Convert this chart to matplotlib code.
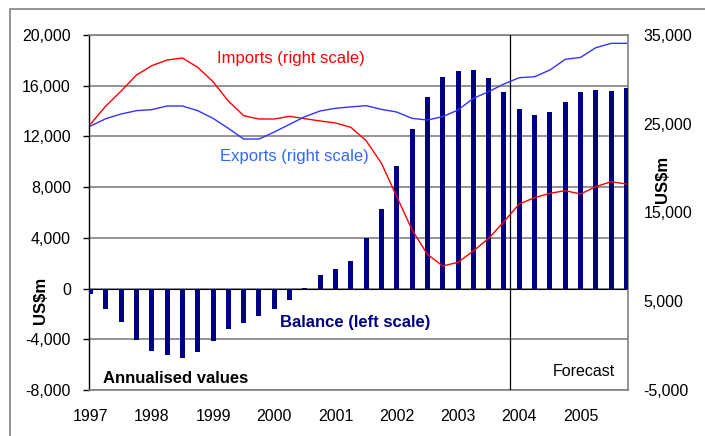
import matplotlib
matplotlib.use("Agg")
from matplotlib import pyplot as plt
from matplotlib.patches import Rectangle

plt.rcParams['font.family'] = ['Liberation Sans', 'DejaVu Sans']

# Quarterly data, 1997 Q1 - 2005 Q4 (forecast from 2004)
years = ['1997', '1998', '1999', '2000', '2001', '2002', '2003', '2004', '2005']
balance = [-400, -1620, -2640, -4030, -4920, -5230, -5460, -4990,
           -4130, -3190, -2720, -2170, -1620, -915, 80, 1100,
           1520, 2200, 4000, 6240, 9630, 12550, 15080, 16660,
           17130, 17210, 16580, 15470, 14130, 13660, 13890, 14710,
           15500, 15630, 15550, 15820]
imports = [24970, 27000, 28690, 30490, 31545, 32180, 32410, 31360,
           29740, 27560, 25910, 25535, 25535, 25840, 25570, 25310,
           25085, 24600, 23094, 20540, 16784, 13030, 10286, 8970,
           9385, 10660, 12090, 13970, 15960, 16670, 17160, 17460,
           17085, 17910, 18475, 18210]
exports = [24750, 25570, 26100, 26475, 26590, 27000, 27000, 26475,
           25610, 24484, 23280, 23280, 24070, 24934, 25800, 26440,
           26740, 26900, 27037, 26620, 26320, 25610, 25420, 25800,
           26550, 27864, 28615, 29480, 30190, 30300, 31056, 32260,
           32480, 33570, 34060, 34060]
quarters = list(range(len(balance)))
forecast_start = 27.4

W, H = 705, 436


# pixel -> figure fraction helpers
def fx(px):
    return px / W


def fy(py):
    return 1 - py / H


fig = plt.figure(figsize=(W / 100, H / 100), dpi=100)

# outer chart border
fig.patches.append(Rectangle((fx(10), fy(460)), fx(720) - fx(10), fy(9) - fy(460),
                             transform=fig.transFigure, fill=False,
                             edgecolor='#808080', lw=1.2))

ax = fig.add_axes([fx(89), fy(390), fx(628) - fx(89), fy(35) - fy(390)])
ax2 = ax.twinx()

# balance bars on the left scale
ax.bar(quarters, balance, width=0.33, color='#000080', zorder=3)
ax.axhline(0, color='black', lw=0.8, zorder=2)
ax.axvline(forecast_start, color='black', lw=0.9, zorder=4)

ax.set_xlim(-0.1, 35.1)
ax.set_ylim(-8000, 20000)
ax.set_yticks(range(-8000, 20001, 4000))
ax.set_yticklabels(['{:,}'.format(v) for v in range(-8000, 20001, 4000)])
ax.yaxis.grid(True, color='#808080', lw=1.2)
ax.set_axisbelow(True)
ax.set_xticks(range(0, 36, 4))
ax.set_xticklabels(years)
ax.tick_params(axis='x', length=0, pad=14, labelsize=11.5)
ax.tick_params(axis='y', length=4, width=1, direction='out', pad=9, labelsize=11.5)

for side in ['top', 'right', 'bottom']:
    ax.spines[side].set_color('#808080')
    ax.spines[side].set_linewidth(1.2)
ax.spines['left'].set_color('black')
ax.spines['left'].set_linewidth(1)

# imports and exports on the right scale
ax2.plot(quarters, imports, color='#FF0000', lw=1.0, zorder=5)
ax2.plot(quarters, exports, color='#3333FF', lw=1.0, zorder=5)
ax2.set_ylim(-5000, 35000)
ax2.set_yticks(range(-5000, 35001, 10000))
ax2.set_yticklabels(['{:,}'.format(v) for v in range(-5000, 35001, 10000)])
ax2.tick_params(axis='y', length=0, pad=11, labelsize=11.5)
for side in ['top', 'right', 'bottom', 'left']:
    ax2.spines[side].set_visible(False)

# annotations
fig.text(fx(217), fy(58), 'Imports (right scale)', color='#FF0000',
         fontsize=12, ha='left', va='center')
fig.text(fx(220), fy(157), 'Exports (right scale)', color='#3366FF',
         fontsize=12, ha='left', va='center')
fig.text(fx(280), fy(322), 'Balance (left scale)', color='#000080',
         fontsize=12, fontweight='bold', ha='left', va='center')
fig.text(fx(103), fy(378), 'Annualised values', color='black',
         fontsize=12, fontweight='bold', ha='left', va='center')
fig.text(fx(553), fy(371), 'Forecast', color='black',
         fontsize=11.5, ha='left', va='center')

fig.text(fx(41), fy(300), 'US$m', fontsize=12, fontweight='bold',
         rotation=90, ha='center', va='center')
fig.text(fx(663), fy(179), 'US$m', fontsize=12, fontweight='bold',
         rotation=90, ha='center', va='center')

fig.savefig('out.png', dpi=100)
